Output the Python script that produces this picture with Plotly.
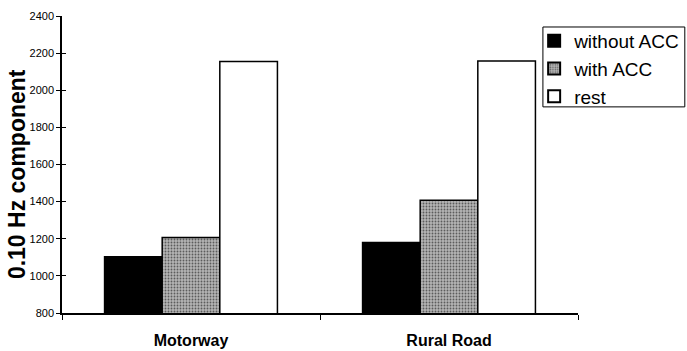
import plotly.graph_objects as go

# Road types on the x axis
categories = ["Motorway", "Rural Road"]

# 0.10 Hz component per condition
without_acc = [1103, 1180]
with_acc = [1207, 1407]
rest = [2155, 2157]

y_ticks = [800, 1000, 1200, 1400, 1600, 1800, 2000, 2200, 2400]

FONT = "Liberation Sans, Arial, sans-serif"
outline = dict(color="black", width=1.5)

fig = go.Figure()
fig.add_trace(go.Bar(
    x=categories, y=without_acc, name="without ACC",
    marker=dict(color="black", line=outline),
))
fig.add_trace(go.Bar(
    x=categories, y=with_acc, name="with ACC",
    marker=dict(
        color="#ababab", line=outline,
        pattern=dict(shape=".", fgcolor="#5c5c5c", bgcolor="#b4b4b4",
                     size=3, solidity=0.3, fillmode="replace"),
    ),
))
fig.add_trace(go.Bar(
    x=categories, y=rest, name="rest",
    marker=dict(color="white", line=outline),
))
# inner half of the cross-shaped y ticks
fig.add_trace(go.Scatter(
    x=categories, y=[y_ticks[0]] * 2, yaxis="y2", mode="none",
    showlegend=False, hoverinfo="skip",
))

# legend frame
fig.add_shape(
    type="rect", xref="paper", yref="paper",
    x0=0.932, x1=1.207, y0=0.694, y1=0.963,
    line=dict(color="black", width=1), fillcolor="white", layer="below",
)

# y axis title
fig.add_annotation(
    text="<b>0.10 Hz component</b>", textangle=-90,
    xref="paper", yref="paper", x=-0.087, y=0.468,
    xanchor="center", yanchor="middle", showarrow=False,
    font=dict(size=23, family=FONT, color="black"),
)

fig.update_layout(
    width=687, height=351,
    margin=dict(l=62, r=109, t=16, b=38, autoexpand=False),
    paper_bgcolor="white", plot_bgcolor="white",
    barmode="group", bargap=0.33, bargroupgap=0,
    font=dict(family=FONT, color="black"),
    showlegend=True,
    legend=dict(
        x=0.915, y=0.980, xanchor="left", yanchor="top",
        borderwidth=0, bgcolor="rgba(0,0,0,0)",
        font=dict(size=19, family=FONT, color="black"),
        tracegroupgap=0, itemsizing="constant",
    ),
    xaxis=dict(
        type="category", range=[-0.5, 1.5], automargin=False,
        showline=True, linecolor="black", linewidth=1.5,
        ticks="outside", tickson="boundaries", ticklen=5,
        tickcolor="black", tickwidth=1.2, ticklabelstandoff=12,
        tickfont=dict(size=16, family=FONT, color="black", weight="bold"),
        showgrid=False, zeroline=False,
    ),
    yaxis=dict(
        range=[800, 2400], tickvals=y_ticks, automargin=False,
        ticktext=[str(v) for v in y_ticks],
        showline=True, linecolor="black", linewidth=1.5,
        ticks="outside", ticklen=4, tickcolor="black", tickwidth=1.2,
        tickfont=dict(size=11, family=FONT, color="black"),
        showgrid=False, zeroline=False,
    ),
    yaxis2=dict(
        overlaying="y", matches="y", side="left", automargin=False,
        tickvals=y_ticks, showticklabels=False,
        ticks="inside", ticklen=4, tickcolor="black", tickwidth=1.2,
        showgrid=False, zeroline=False, showline=False,
    ),
)

fig.write_html("out.html")
